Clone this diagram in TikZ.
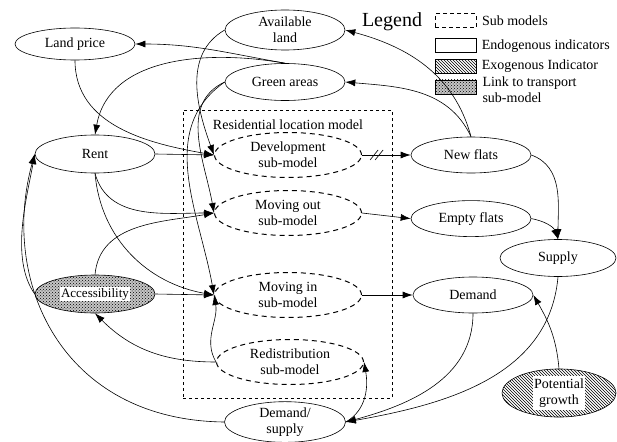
\documentclass[tikz,border=0pt]{standalone}
\usepackage{fontspec}
\setmainfont{Liberation Serif}
\usetikzlibrary{positioning,arrows.meta,shapes.geometric,patterns}
\setlength{\fboxsep}{1pt}
\tikzset{
	every node/.style={font=\fontsize{14}{16}\selectfont},
	ind base/.style={draw, ellipse, inner sep=0pt, align=center, minimum width=120pt, minimum height=37pt, line width=0.6pt},
	sub base/.style={ind base, line width=1pt, dash pattern=on 5pt off 4pt, minimum width=147pt, minimum height=45pt},
	exo base/.style={ind base, pattern=north west lines},
	link base/.style={ind base, preaction={fill=gray!45}, pattern=crosshatch dots},
	key base/.style={draw, rectangle, inner sep=0pt, minimum width=41pt, minimum height=14pt, line width=0.6pt},
	conn/.style={-{Latex[length=10pt,width=7pt]}, line width=0.6pt},
}

\begin{document}
\begin{tikzpicture}[x=1pt,y=1pt]
	\useasboundingbox (0,0) rectangle (617,-441);

	% Residential location model
	\node [draw, rectangle, dashed, line width=0.6pt, minimum width=209pt, minimum height=288pt] (resbox) at (287.5,-254) {};
	\node (reslabel) at (288,-125) {Residential location model};
	\node [sub base] (dev) at (288,-155) {Development\\sub-model};
	\node [sub base] (mout) at (288,-213) {Moving out\\sub-model};
	\node [sub base] (min) at (288,-295) {Moving in\\sub-model};
	\node [sub base] (redist) at (290,-362) {Redistribution\\sub-model};

	% Indicators
	\node [ind base,minimum height=32pt] (landprice) at (75,-44) {Land price};
	\node [ind base,minimum height=40pt] (availland) at (285,-30) {Available\\land};
	\node [ind base] (green) at (285,-82) {Green areas};
	\node [ind base,minimum height=38pt] (rent) at (95,-154) {Rent};
	\node [link base,minimum height=38pt] (access) at (95,-294) {\colorbox{white}{\fontsize{13}{15}\selectfont Accessibility}};
	\node [ind base,minimum height=36pt] (newflats) at (471,-155) {New flats};
	\node [ind base,minimum height=36pt,below=27pt of newflats] (empty) {Empty flats};
	\node [ind base,minimum width=116pt] (supply) at (558,-258) {Supply};
	\node [ind base,minimum height=36pt] (demand) at (473,-295) {Demand};
	\node [exo base,minimum width=114pt,minimum height=46pt] (growth) at (559,-393) {\colorbox{white}{\begin{tabular}{@{}c@{}}Potential\\growth\end{tabular}}};
	\node [ind base,minimum width=121pt,minimum height=38pt] (demsup) at (285,-422) {Demand/\\supply};

	% Legend
	\node [font=\fontsize{20}{22}\selectfont] (legend) at (392,-22) {Legend};
	\node [key base,line width=1pt,dash pattern=on 4pt off 3pt] (keysub) at (455.5,-21) {};
	\node [key base,below=10pt of keysub] (keyendo) {};
	\node [key base,pattern=north west lines,below=6pt of keyendo] (keyexo) {};
	\node [key base,preaction={fill=gray!45},pattern=crosshatch dots,below=6pt of keyexo] (keylink) {};
	\node [right=2pt of keysub] (txtsub) {Sub models};
	\node [right=2pt of keyendo] (txtendo) {Endogenous indicators};
	\node [right=2pt of keyexo] (txtexo) {Exogenous Indicator};
	\node [right=6pt of keylink.north east,anchor=north west,align=left,inner sep=0pt,yshift=3pt] (txtlink) {Link to transport\\sub-model};

	% Connectors
	\draw [conn] (newflats.north) to[out=105,in=-15] (availland.east);
	\draw [conn] (newflats.north) to[out=115,in=-5] (green.east);
	\draw [conn] (green.north) to[out=170,in=0] (landprice.east);
	\draw [conn] (green.north) to[out=170,in=80] (rent.north);
	\draw [conn] (landprice.south) to[out=-90,in=170] (dev.west);
	\draw [conn] (availland.west) to[out=210,in=110] (dev.west);
	\draw [conn] (green.west) to[out=205,in=100] (mout.west);
	\draw [conn] (green.west) to[out=215,in=100] (min.west);
	\draw [conn] (rent.east) -- (dev.west);
	\draw [conn] (rent.south) to[out=-75,in=180] (mout.west);
	\draw [conn] (rent.south) to[out=-85,in=170] (min.west);
	\draw [conn] (access.north) to[out=85,in=190] (mout.west);
	\draw [conn] (access.east) -- (min.west);
	\draw [conn] (access.west) to[out=125,in=-100,looseness=0.8] (rent.west);
	\draw [conn] (demsup.west) .. controls (60,-420) and (0,-280) .. (rent.west);
	\draw [conn] (redist.west) to[out=180,in=-45] (access.south);
	\draw [conn] (redist.west) to[out=120,in=-80] (min.west);
	\draw [conn] (dev.east) -- coordinate[pos=0.33] (cut) (newflats.west);
	\draw [line width=0.6pt] ([shift={(-8,-5)}]cut) -- ([shift={(0,5)}]cut);
	\draw [line width=0.6pt] ([shift={(-3,-5)}]cut) -- ([shift={(5,5)}]cut);
	\draw [conn] (mout.east) -- (empty.west);
	\draw [conn] (min.east) -- (demand.west);
	\draw [conn] (newflats.east) to[out=-20,in=90] (supply.north);
	\draw [conn] (empty.east) to[out=-10,in=110] (supply.north);
	\draw [conn] (supply.south) to[out=-95,in=10] (demsup.east);
	\draw [conn] (demand.south) to[out=-90,in=15] (demsup.east);
	\draw [conn] (growth.north) to[out=95,in=-60] (demand.east);
	\draw [conn] (demsup.east) to[out=30,in=-80] (redist.east);

\end{tikzpicture}
\end{document}
